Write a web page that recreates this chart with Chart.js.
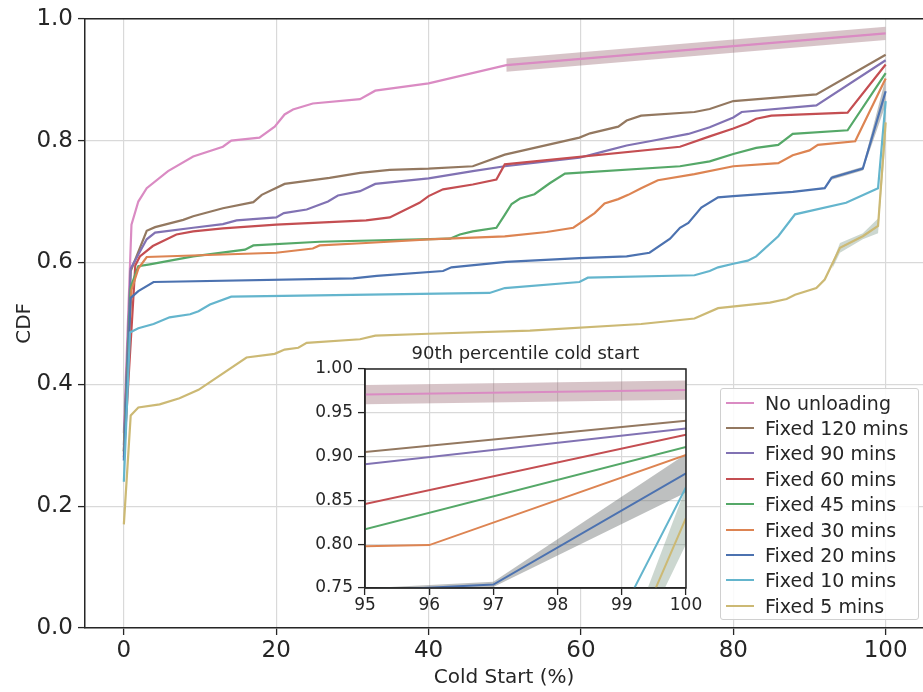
<!DOCTYPE html>
<html>
<head>
<meta charset="utf-8">
<script src="https://cdn.jsdelivr.net/npm/chart.js@4.4.1/dist/chart.umd.min.js"></script>
<style>
  body { margin: 0; background: #fff; }
  #wrap { position: relative; width: 923px; height: 692px; overflow: hidden; }
  #main { position: absolute; left: 0; top: 0; }
  #inset { position: absolute; left: 300px; top: 336px; }
  #legend {
    position: absolute; left: 720px; top: 388px; width: 199px; height: 232px;
    box-sizing: border-box; padding-top: 1px;
    border: 1px solid #d0d0d0; border-radius: 3px; background: rgba(255,255,255,0.85);
    font: 19px "DejaVu Sans"; color: #262626;
  }
  .row { display: flex; align-items: center; height: 25.4px; white-space: nowrap; }
  .sw { width: 28px; height: 2px; margin-left: 5px; margin-right: 11px; flex: none; }
</style>
</head>
<body>
<div id="wrap">
  <canvas id="main" width="923" height="692"></canvas>
  <canvas id="inset" width="410" height="290"></canvas>
  <div id="legend"></div>
</div>
<script>
// series names and colours (seaborn deep palette)
const names = ['No unloading', 'Fixed 120 mins', 'Fixed 90 mins', 'Fixed 60 mins', 'Fixed 45 mins',
               'Fixed 30 mins', 'Fixed 20 mins', 'Fixed 10 mins', 'Fixed 5 mins'];
const colors = ['#da8bc3', '#937860', '#8172b3', '#c44e52', '#55a868', '#dd8452', '#4c72b0', '#64b5cd', '#ccb974'];
const insetTitle = '90th percentile cold start';

// [cold start %, CDF]
const noUnloading = [[0, 0.32], [1, 0.662], [1.9, 0.70], [3, 0.722], [5.8, 0.75], [9.1, 0.774], [13, 0.79],
  [14.1, 0.80], [17.8, 0.805], [19.8, 0.823], [21.1, 0.843], [22.2, 0.851], [24.8, 0.861], [31, 0.868],
  [33, 0.882], [40, 0.894], [50.2, 0.924], [100, 0.976]];
const fixed120 = [[0, 0.29], [0.9, 0.586], [3, 0.652], [4.1, 0.658], [7.8, 0.67], [9.1, 0.676], [13, 0.689],
  [17, 0.699], [18.1, 0.711], [21.1, 0.729], [27, 0.739], [31, 0.747], [34.9, 0.752], [40, 0.754], [45.8, 0.758],
  [50, 0.777], [59.8, 0.805], [61.2, 0.812], [64.9, 0.823], [66, 0.833], [67.9, 0.841], [74.9, 0.847],
  [76.9, 0.852], [80, 0.865], [90.9, 0.876], [100, 0.941]];
const fixed90 = [[0, 0.30], [0.9, 0.59], [3, 0.638], [4.1, 0.649], [9.1, 0.657], [13, 0.663], [14.8, 0.669],
  [20, 0.674], [21, 0.681], [24, 0.687], [26.8, 0.70], [28.1, 0.71], [31, 0.717], [33, 0.729], [40, 0.738],
  [45.8, 0.75], [50, 0.758], [59.8, 0.772], [62.9, 0.782], [66, 0.792], [69.9, 0.801], [74.1, 0.811],
  [76.9, 0.822], [80, 0.838], [81.1, 0.847], [90.9, 0.858], [100, 0.932]];
const fixed60 = [[0, 0.28], [1.5, 0.595], [2.1, 0.61], [3.8, 0.627], [6.9, 0.646], [9.1, 0.651], [13, 0.656],
  [20, 0.662], [31.8, 0.669], [34.9, 0.674], [38.8, 0.698], [40, 0.709], [41.9, 0.72], [45.8, 0.728],
  [48.9, 0.736], [50, 0.761], [73, 0.79], [76.9, 0.807], [80, 0.82], [81.9, 0.829], [83, 0.836], [85, 0.841],
  [95, 0.846], [100, 0.925]];
const fixed45 = [[0, 0.29], [0.9, 0.56], [1.9, 0.594], [3.4, 0.597], [9.1, 0.61], [15.9, 0.621], [17, 0.628],
  [25.7, 0.634], [42.8, 0.639], [44.1, 0.646], [45.8, 0.651], [48.9, 0.657], [50, 0.678], [50.9, 0.696],
  [52, 0.705], [53.9, 0.712], [55.9, 0.73], [57.9, 0.746], [73, 0.758], [76.9, 0.766], [80, 0.778], [83, 0.788],
  [85.9, 0.793], [87.8, 0.811], [95, 0.817], [100, 0.911]];
const fixed30 = [[0, 0.285], [1, 0.555], [1.9, 0.59], [3, 0.609], [20, 0.616], [24.8, 0.623], [25.7, 0.628],
  [31.8, 0.632], [40, 0.638], [50, 0.643], [55.5, 0.65], [59, 0.657], [61.8, 0.681], [63.1, 0.697],
  [64.9, 0.704], [66.2, 0.711], [67.9, 0.722], [70.1, 0.735], [74.9, 0.745], [80, 0.758], [85.9, 0.763],
  [87.8, 0.776], [90, 0.784], [91.1, 0.793], [96, 0.799], [100, 0.902]];
const fixed20 = [[0, 0.275], [0.9, 0.542], [1.9, 0.553], [3.9, 0.568], [30.1, 0.574], [33.2, 0.578],
  [41.9, 0.586], [43, 0.592], [50.2, 0.601], [59.8, 0.607], [66, 0.61], [69, 0.616], [71.7, 0.639], [73, 0.657],
  [74.1, 0.665], [75.8, 0.69], [78, 0.707], [80, 0.709], [87.8, 0.716], [92, 0.722], [92.9, 0.739],
  [97, 0.754], [100, 0.881]];
const fixed10 = [[0, 0.24], [0.8, 0.485], [1.9, 0.492], [3.9, 0.499], [6, 0.51], [8.7, 0.515], [9.8, 0.52],
  [11.3, 0.531], [14.1, 0.544], [48, 0.55], [50, 0.558], [59.8, 0.568], [60.9, 0.575], [74.9, 0.579],
  [76.9, 0.586], [78, 0.592], [80, 0.598], [81.9, 0.603], [83, 0.61], [85.9, 0.643], [88.1, 0.679],
  [94.8, 0.698], [99, 0.722], [100, 0.865]];
const fixed5 = [[0, 0.17], [0.9, 0.349], [1.9, 0.362], [4.7, 0.367], [7.3, 0.377], [9.8, 0.391], [16.1, 0.444],
  [19.8, 0.45], [21.1, 0.457], [22.9, 0.46], [24, 0.468], [31, 0.474], [33, 0.48], [40, 0.483], [53.3, 0.488],
  [67.9, 0.499], [74.9, 0.508], [78, 0.525], [84.8, 0.534], [87, 0.54], [88.1, 0.547], [90.9, 0.558],
  [92, 0.572], [94, 0.624], [97, 0.643], [99, 0.66], [100, 0.83]];

// confidence bands (upper / lower edges)
const noUnloadingHi = [[50.2, 0.935], [100, 0.987]];
const noUnloadingLo = [[50.2, 0.913], [100, 0.965]];
const fixed20Hi = [[92.9, 0.742], [97, 0.757], [100, 0.903]];
const fixed20Lo = [[92.9, 0.736], [97, 0.751], [100, 0.859]];
const fixed5Hi = [[93, 0.6], [94, 0.632], [97, 0.648], [99, 0.672], [100, 0.865]];
const fixed5Lo = [[93, 0.59], [94, 0.616], [97, 0.638], [99, 0.648], [100, 0.80]];

const xTicks = [0, 20, 40, 60, 80, 100];
const yTicks = [0, 0.2, 0.4, 0.6, 0.8, 1.0];
const insetXTicks = [95, 96, 97, 98, 99, 100];
const insetYTicks = [0.75, 0.80, 0.85, 0.90, 0.95, 1.00];

const series = [noUnloading, fixed120, fixed90, fixed60, fixed45, fixed30, fixed20, fixed10, fixed5];
const bands = [[noUnloadingHi, noUnloadingLo], [fixed20Hi, fixed20Lo], [fixed5Hi, fixed5Lo]];
const bandColors = ['rgba(150,100,110,0.38)', 'rgba(110,115,115,0.45)', 'rgba(110,140,120,0.35)'];

const FONT = 'DejaVu Sans';
const INK = '#262626';
Chart.defaults.font.family = FONT;
Chart.defaults.color = INK;

const pts = arr => arr.map(p => ({ x: p[0], y: p[1] }));

function buildDatasets(lineWidth) {
  const sets = [];
  bands.forEach((b, i) => {
    sets.push({ data: pts(b[0]), fill: '+1', backgroundColor: bandColors[i], borderWidth: 0, pointRadius: 0, order: 100 });
    sets.push({ data: pts(b[1]), fill: false, borderWidth: 0, pointRadius: 0, order: 100 });
  });
  series.forEach((s, i) => {
    sets.push({
      label: names[i], data: pts(s), borderColor: colors[i], borderWidth: lineWidth,
      pointRadius: 0, fill: false, tension: 0, order: -i
    });
  });
  return sets;
}

// spines on top (main) or all round (inset), white face and centred title for the inset
const frame = {
  id: 'frame',
  beforeDraw(chart, args, opts) {
    if (!opts.face) return;
    const a = chart.chartArea, c = chart.ctx;
    c.save();
    c.fillStyle = '#ffffff';
    c.fillRect(a.left, a.top, a.right - a.left, a.bottom - a.top);
    c.restore();
  },
  afterDraw(chart, args, opts) {
    const a = chart.chartArea, c = chart.ctx;
    c.save();
    c.strokeStyle = INK;
    c.lineWidth = opts.width || 1.5;
    c.beginPath();
    if (opts.box) {
      c.rect(a.left, a.top, a.right - a.left, a.bottom - a.top);
    } else {
      c.moveTo(a.left, a.top);
      c.lineTo(a.right, a.top);
    }
    c.stroke();
    if (opts.title) {
      c.fillStyle = INK;
      c.font = '18px "DejaVu Sans"';
      c.textAlign = 'center';
      c.textBaseline = 'middle';
      c.fillText(opts.title, (a.left + a.right) / 2, a.top - 15);
    }
    c.restore();
  }
};

function axis(opts) {
  return {
    type: 'linear', min: opts.min, max: opts.max,
    afterBuildTicks: s => { s.ticks = opts.ticks.map(v => ({ value: v })); },
    afterFit: opts.fit,
    grid: { color: '#d9d9d9', lineWidth: 1.2, tickLength: opts.tickLength, tickColor: INK, tickWidth: 1.3 },
    border: { color: INK, width: opts.border },
    ticks: {
      font: { size: opts.tickSize }, color: INK, padding: opts.pad, maxRotation: 0, autoSkip: false,
      callback: v => v.toFixed(opts.digits)
    },
    title: opts.title ? { display: true, text: opts.title, font: { size: 20 }, color: INK, padding: opts.titlePad } : { display: false }
  };
}

new Chart(document.getElementById('main'), {
  type: 'line',
  data: { datasets: buildDatasets(2.2) },
  options: {
    responsive: false, animation: false,
    layout: { padding: { top: 17, right: 0, left: 0, bottom: 0 } },
    plugins: { legend: { display: false }, tooltip: { enabled: false }, frame: { width: 1.5 } },
    scales: {
      x: axis({ min: -5.1, max: 104.9, ticks: xTicks, fit: s => { s.height = 64; }, tickLength: 7, border: 1.5,
                tickSize: 23, pad: 2, digits: 0, title: 'Cold Start (%)', titlePad: { top: 0, bottom: 2 } }),
      y: axis({ min: 0, max: 1, ticks: yTicks, fit: s => { s.width = 85; }, tickLength: 7, border: 1.5,
                tickSize: 23, pad: 5, digits: 1, title: 'CDF', titlePad: { top: 13, bottom: 0 } })
    }
  },
  plugins: [frame]
});

new Chart(document.getElementById('inset'), {
  type: 'line',
  data: { datasets: buildDatasets(2) },
  options: {
    responsive: false, animation: false,
    layout: { padding: { top: 33, right: 24, left: 0, bottom: 0 } },
    plugins: {
      legend: { display: false }, tooltip: { enabled: false },
      frame: { box: true, face: true, width: 1.5, title: insetTitle }
    },
    scales: {
      x: axis({ min: 95, max: 100, ticks: insetXTicks, fit: s => { s.height = 38; }, tickLength: 7, border: 1.5,
                tickSize: 17, pad: 0, digits: 0 }),
      y: axis({ min: 0.75, max: 1.0, ticks: insetYTicks, fit: s => { s.width = 65; }, tickLength: 7, border: 1.5,
                tickSize: 17, pad: 5, digits: 2 })
    }
  },
  plugins: [frame]
});

// legend box
const legend = document.getElementById('legend');
names.forEach((n, i) => {
  const row = document.createElement('div');
  row.className = 'row';
  const sw = document.createElement('span');
  sw.className = 'sw';
  sw.style.background = colors[i];
  const tx = document.createElement('span');
  tx.textContent = n;
  row.appendChild(sw);
  row.appendChild(tx);
  legend.appendChild(row);
});
</script>
</body>
</html>
